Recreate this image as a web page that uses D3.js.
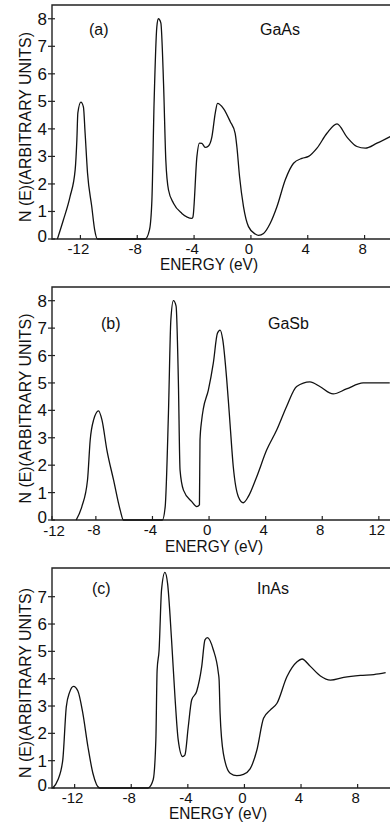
<!DOCTYPE html>
<html>
<head>
<meta charset="utf-8">
<script src="https://cdn.jsdelivr.net/npm/d3@7"></script>
<style>
    body { margin: 0; background: #fff; }
    svg { display: block; }
    text { font-family: "Liberation Sans", Arial, sans-serif; fill: #111; }
</style>
</head>
<body>
<svg id="chart" width="390" height="825"></svg>
<script>
// energy (eV) and N(E)
var gaasE = [-13.62, -13.2, -12.73, -12.37, -12.25, -12.18, -11.97, -11.79, -11.67, -11.5, -11.2, -11.0, -10.8,
    -7.44, -7.14, -6.97, -6.81, -6.62, -6.51, -6.34, -6.15, -5.99, -5.8, -5.45, -4.86, -4.15, -4.08,
    -3.8, -3.62, -3.45, -3.22, -2.99, -2.75, -2.51, -2.35, -1.93, -1.46, -1.11, -0.99, -0.8, -0.52,
    -0.17, 0.3, 0.54, 0.89, 1.36, 1.83, 2.42, 3.0, 3.59, 4.06, 4.65, 5.35, 6.06, 6.76, 7.46, 8.05, 8.87, 9.81];
var gaasN = [0, 0.69, 1.54, 2.51, 3.6, 4.58, 4.97, 4.8, 3.85, 2.4, 1.17, 0.34, 0,
    0, 0.33, 1.4, 5.05, 7.72, 8.0, 7.85, 5.66, 2.87, 1.78, 1.3, 0.93, 0.75, 0.8,
    3.0, 3.48, 3.47, 3.33, 3.38, 3.7, 4.57, 4.93, 4.74, 4.27, 3.84, 3.36, 2.27, 1.17,
    0.45, 0.18, 0.13, 0.2, 0.57, 1.17, 2.15, 2.75, 2.93, 3.0, 3.3, 3.84, 4.18, 3.7, 3.36, 3.3, 3.48, 3.72];

var gasbE = [-9.39, -8.99, -8.59, -8.4, -8.16, -7.81, -7.57, -7.22, -6.75, -6.28, -6.05,
    -3.3, -3.1, -2.87, -2.7, -2.52, -2.33, -2.17, -2.05, -1.81, -1.22, -0.87, -0.68,
    -0.64, -0.52, -0.4, -0.05, 0.3, 0.59, 0.78, 0.97, 1.25, 1.36, 1.48, 1.71, 2.07, 2.42,
    2.77, 3.37, 4.07, 4.78, 5.48, 6.19, 7.13, 7.83, 8.77, 9.71, 10.89, 12.77];
var gasbN = [0, 0.49, 1.46, 2.92, 3.65, 3.98, 3.65, 2.55, 1.46, 0.36, 0,
    0, 0.49, 3.9, 7.3, 8.0, 7.8, 5.1, 1.82, 1.09, 0.67, 0.49, 0.55,
    2.92, 3.65, 4.07, 4.74, 5.72, 6.81, 6.93, 6.57, 5.11, 4.38, 3.53, 1.95, 0.85, 0.63,
    0.85, 1.58, 2.55, 3.28, 4.14, 4.87, 5.04, 4.87, 4.6, 4.78, 5.0, 5.0];

var inasE = [-13.55, -13.19, -12.84, -12.59, -12.36, -12.08, -11.77, -11.42, -11.06, -10.71, -10.23,
    -6.81, -6.45, -6.26, -6.17, -6.03, -5.86, -5.62, -5.43, -5.15, -4.91, -4.68, -4.37, -4.21,
    -3.97, -3.73, -3.38, -3.02, -2.79, -2.62, -2.2, -1.84, -1.79, -1.72, -1.49, -1.01, -0.54,
    -0.07, 0.4, 0.88, 1.35, 1.82, 2.3, 3.0, 3.72, 4.07, 4.66, 5.37, 6.08, 7.02, 8.2, 9.15, 9.98];
var inasN = [0, 0.29, 1.02, 2.97, 3.5, 3.72, 3.55, 2.73, 1.51, 0.54, 0,
    0, 0.3, 1.76, 4.32, 5.05, 7.24, 7.89, 7.48, 5.42, 3.34, 1.76, 1.15, 1.2,
    2.24, 3.22, 3.53, 4.44, 5.42, 5.5, 5.06, 4.2, 3.96, 2.73, 1.27, 0.54, 0.45,
    0.5, 0.7, 1.39, 2.55, 2.85, 3.1, 4.07, 4.62, 4.72, 4.45, 4.1, 3.95, 4.05, 4.12, 4.15, 4.22];

var xTicksA = [-12, -8, -4, 0, 4, 8];
var xTicksB = [-12, -8, -4, 0, 4, 8, 12];
var xTicksC = [-12, -8, -4, 0, 4, 8];
var yTicksAB = [0, 1, 2, 3, 4, 5, 6, 7, 8];
var yTicksC = [0, 1, 2, 3, 4, 5, 6, 7];

var panels = [
    { tag: '(a)', name: 'GaAs', e: gaasE, n: gaasN, xTicks: xTicksA, yTicks: yTicksAB,
      xDom: [-14, 10], yDom: [0, 8.5], top: 5, bottom: 239, tagX: 89, nameX: 260, titleY: 35,
      energyX: 209, energyDy: 31 },
    { tag: '(b)', name: 'GaSb', e: gasbE, n: gasbN, xTicks: xTicksB, yTicks: yTicksAB,
      xDom: [-11.1, 13], yDom: [0, 8.5], top: 287, bottom: 520, tagX: 101, nameX: 268, titleY: 329,
      energyX: 214, energyDy: 32 },
    { tag: '(c)', name: 'InAs', e: inasE, n: inasN, xTicks: xTicksC, yTicks: yTicksC,
      xDom: [-13.6, 10.5], yDom: [0, 8.05], top: 568, bottom: 788, tagX: 92, nameX: 257, titleY: 594,
      energyX: 218, energyDy: 31 }
];

var svg = d3.select('#chart'),
    left = 52,
    right = 393;

panels.forEach(function(p) {
    var x = d3.scaleLinear().domain(p.xDom).range([left, right]).clamp(true),
        y = d3.scaleLinear().domain(p.yDom).range([p.bottom, p.top]),
        g = svg.append('g');

    // frame: top edge, left edge, bottom axis
    g.append('path')
        .attr('d', 'M' + right + ',' + p.top + 'H' + left + 'V' + p.bottom + 'H' + right)
        .attr('fill', 'none')
        .attr('stroke', '#222')
        .attr('stroke-width', 1.4);

    g.selectAll('.xtick').data(p.xTicks).enter().append('line')
        .attr('x1', function(d) { return x(d); })
        .attr('x2', function(d) { return x(d); })
        .attr('y1', p.bottom)
        .attr('y2', p.bottom - 4)
        .attr('stroke', '#222').attr('stroke-width', 1.2);

    // a tick that falls left of the frame gets its label pinned at the frame edge
    g.selectAll('.xlab').data(p.xTicks).enter().append('text')
        .attr('x', function(d) { return x(d) - 2 + (x(d) <= left ? 4 : 0); })
        .attr('y', function(d) { return p.bottom + (x(d) <= left ? 16 : 15); })
        .attr('text-anchor', 'middle')
        .attr('font-size', '15px')
        .text(function(d) { return d < 0 ? '-' + Math.abs(d) : d; });

    g.selectAll('.ytick').data(p.yTicks).enter().append('line')
        .attr('x1', left - 4)
        .attr('x2', left + 3)
        .attr('y1', function(d) { return y(d); })
        .attr('y2', function(d) { return y(d); })
        .attr('stroke', '#222').attr('stroke-width', 1.2);

    g.selectAll('.ylab').data(p.yTicks).enter().append('text')
        .attr('x', left - 5)
        .attr('y', function(d) { return y(d) + (d === 0 ? 3 : 6); })
        .attr('text-anchor', 'end')
        .attr('font-size', '17px')
        .text(function(d) { return d; });

    var mid = (p.top + p.bottom) / 2 + 5;
    g.append('text')
        .attr('transform', 'translate(31,' + mid + ') rotate(-90)')
        .attr('text-anchor', 'middle')
        .attr('font-size', '16px')
        .attr('textLength', 190)
        .attr('lengthAdjust', 'spacingAndGlyphs')
        .text('N (E)(ARBITRARY UNITS)');

    g.append('text')
        .attr('x', p.energyX)
        .attr('y', p.bottom + p.energyDy)
        .attr('text-anchor', 'middle')
        .attr('font-size', '16px')
        .attr('textLength', 98)
        .attr('lengthAdjust', 'spacingAndGlyphs')
        .text('ENERGY (eV)');

    g.append('text')
        .attr('x', p.tagX).attr('y', p.titleY)
        .attr('font-size', '16px')
        .text(p.tag);

    g.append('text')
        .attr('x', p.nameX).attr('y', p.titleY)
        .attr('font-size', '16px')
        .text(p.name);

    var line = d3.line()
        .x(function(d) { return x(d[0]); })
        .y(function(d) { return y(d[1]); })
        .curve(d3.curveMonotoneX);

    g.append('path')
        .datum(d3.zip(p.e, p.n))
        .attr('d', line)
        .attr('fill', 'none')
        .attr('stroke', '#111')
        .attr('stroke-width', 1.3);
});
</script>
</body>
</html>
